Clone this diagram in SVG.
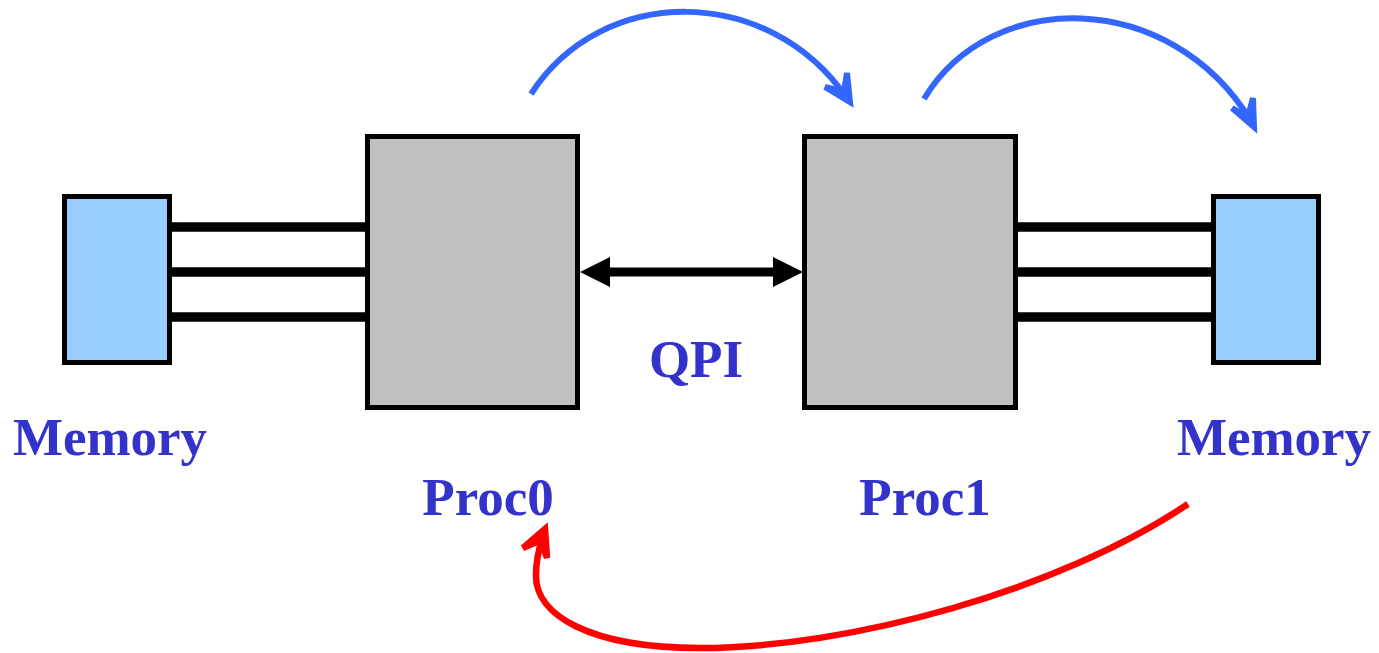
<svg xmlns="http://www.w3.org/2000/svg" width="1379" height="653" viewBox="0 0 1379 653">
  <style>
    .mem { fill: #99CCFF; stroke: #000; stroke-width: 5; }
    .proc { fill: #C0C0C0; stroke: #000; stroke-width: 5; }
    .bus { stroke: #000; stroke-width: 9.5; fill: none; }
    .label { font-family: "Liberation Serif", "Times New Roman", serif; font-weight: bold; font-size: 53px; fill: #3333CC; text-anchor: middle; }
    .flow { fill: none; stroke: #3366FF; stroke-width: 6; }
    .flow-head { fill: #3366FF; stroke: #3366FF; stroke-width: 6; stroke-linecap: round; stroke-linejoin: miter; }
    .remote { fill: none; stroke: #FF0000; stroke-width: 6.5; }
    .remote-head { fill: #FF0000; stroke: #FF0000; stroke-width: 6.5; stroke-linecap: round; stroke-linejoin: miter; }
  </style>
  <defs>
    <!-- solid head for the QPI link; tip sits 20px beyond the line end -->
    <marker id="qpiHead" viewBox="0 0 30 30" refX="10" refY="15" markerWidth="30" markerHeight="30" markerUnits="userSpaceOnUse" orient="auto-start-reverse">
      <path d="M0,0 L30,15 L0,30 Z" fill="#000"/>
    </marker>
  </defs>

  <g id="memory0">
    <rect class="mem" x="64.5" y="196.5" width="105" height="166"/>
    <text class="label" x="110" y="455">Memory</text>
  </g>

  <g id="proc0">
    <rect class="proc" x="367.5" y="136.5" width="210" height="271"/>
    <text class="label" x="488" y="515">Proc0</text>
  </g>

  <g id="proc1">
    <rect class="proc" x="804.5" y="136.5" width="211" height="271"/>
    <text class="label" x="925" y="515">Proc1</text>
  </g>

  <g id="memory1">
    <rect class="mem" x="1213.5" y="196.5" width="105" height="166"/>
    <text class="label" x="1274" y="455">Memory</text>
  </g>

  <g id="qpi">
    <text class="label" x="696" y="377">QPI</text>
  </g>

  <g id="connectors">
    <!-- memory buses -->
    <path class="bus" d="M172,227 H365 M172,272 H365 M172,317 H365"/>
    <path class="bus" d="M1018,227 H1211 M1018,272 H1211 M1018,317 H1211"/>
    <!-- QPI link -->
    <line x1="600" y1="272" x2="783" y2="272" stroke="#000" stroke-width="9" marker-start="url(#qpiHead)" marker-end="url(#qpiHead)"/>
    <!-- local access arcs -->
    <path class="flow" d="M531,94 C602,-16 768,-16 846,97"/>
    <path class="flow-head" d="M825,87 L850,102 L847,73 L844,92 Z"/>
    <path class="flow" d="M924,99 C990,-12 1170,-12 1251,121"/>
    <path class="flow-head" d="M1232,108 L1254,127 L1253,98 L1248,117 Z"/>
    <!-- remote access arc -->
    <path class="remote" d="M1188,504 C1060,590 850,648 700,648 C590,648 535,615 536,575 C536,560 539,548 543,536"/>
    <path class="remote-head" d="M523,548 L545,529 L547,558 L541,540 Z"/>
  </g>
</svg>
